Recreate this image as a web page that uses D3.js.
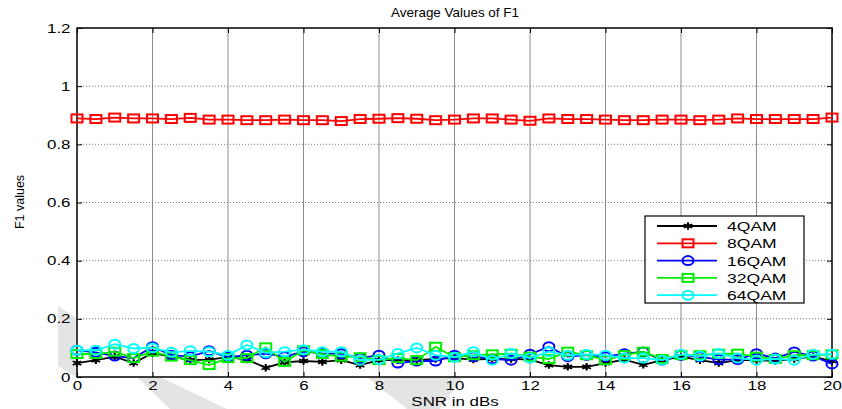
<!DOCTYPE html>
<html>
<head>
<meta charset="utf-8">
<script src="https://cdn.jsdelivr.net/npm/d3@7"></script>
<style>
  html, body { margin: 0; padding: 0; background: #fff; }
  svg { display: block; font-family: "Liberation Sans", Arial, sans-serif; }
</style>
</head>
<body>
<svg id="chart" width="842" height="409"></svg>
<script>
// ---------- data ----------
const snr = [0,0.5,1,1.5,2,2.5,3,3.5,4,4.5,5,5.5,6,6.5,7,7.5,8,8.5,9,9.5,10,
             10.5,11,11.5,12,12.5,13,13.5,14,14.5,15,15.5,16,16.5,17,17.5,18,18.5,19,19.5,20];

const qam4  = [0.048,0.058,0.070,0.048,0.082,0.070,0.058,0.060,0.068,0.060,0.032,0.050,0.055,0.052,
               0.058,0.041,0.058,0.058,0.058,0.062,0.065,0.060,0.062,0.062,0.060,0.041,0.035,0.035,
               0.048,0.060,0.042,0.058,0.070,0.058,0.048,0.058,0.058,0.055,0.062,0.070,0.055];
const qam8  = [0.889,0.887,0.892,0.889,0.889,0.887,0.891,0.885,0.885,0.883,0.883,0.885,0.883,0.883,
               0.880,0.887,0.888,0.890,0.888,0.883,0.885,0.889,0.889,0.885,0.881,0.889,0.887,0.887,
               0.885,0.883,0.883,0.885,0.885,0.883,0.885,0.889,0.887,0.887,0.887,0.887,0.892];
const qam16 = [0.092,0.085,0.072,0.065,0.104,0.075,0.070,0.090,0.068,0.075,0.080,0.070,0.087,0.081,
               0.080,0.065,0.075,0.048,0.055,0.055,0.075,0.070,0.062,0.058,0.078,0.104,0.070,0.075,
               0.070,0.080,0.086,0.058,0.075,0.070,0.060,0.060,0.080,0.065,0.086,0.072,0.045];
const qam32 = [0.079,0.079,0.087,0.065,0.087,0.070,0.058,0.041,0.065,0.065,0.102,0.052,0.092,0.079,
               0.070,0.068,0.058,0.065,0.058,0.104,0.068,0.075,0.078,0.080,0.070,0.062,0.087,0.075,
               0.058,0.075,0.087,0.062,0.075,0.075,0.080,0.080,0.070,0.062,0.075,0.075,0.078];
const qam64 = [0.092,0.092,0.113,0.098,0.100,0.085,0.090,0.087,0.075,0.110,0.083,0.087,0.094,0.087,
               0.087,0.058,0.060,0.081,0.100,0.075,0.068,0.087,0.058,0.081,0.065,0.087,0.075,0.078,
               0.075,0.065,0.065,0.058,0.078,0.072,0.081,0.065,0.058,0.062,0.058,0.078,0.078];

const seriesNames  = ["4QAM","8QAM","16QAM","32QAM","64QAM"];
const seriesValues = [qam4, qam8, qam16, qam32, qam64];
const seriesColors = ["#000000","#ff0000","#0000ff","#00ee00","#00ffff"];
const seriesMarkers = ["star","square","circle","square","circle"];

const xTicks = [0,2,4,6,8,10,12,14,16,18,20];
const yTicks = [0,0.2,0.4,0.6,0.8,1,1.2];
const yTickLabels = ["0","0.2","0.4","0.6","0.8","1","1.2"];

const titleText = "Average Values of F1";
const xLabelText = "SNR in dBs";
const yLabelText = "F1 values";

// ---------- layout ----------
const svg = d3.select("#chart");
const L = 77, R = 832, T = 28, B = 377;
const x = d3.scaleLinear().domain([0,20]).range([L,R]);
const y = d3.scaleLinear().domain([0,1.2]).range([B,T]);
const SX = 1.3; // horizontal stretch of text seen in the reference

// faint watermark bands (outside the axes)
const wm = svg.append("g").attr("fill","#e4e4e4");
wm.append("path").attr("d","M137,377 L160,377 L227,409 L170,409 Z");
wm.append("path").attr("d","M367,377 L463,377 L440,409 L407,409 Z");
wm.append("path").attr("d","M58,306 L76,318 L76,377 L58,366 Z");

// grid
const grid = svg.append("g");
grid.selectAll("line.vg").data(xTicks.slice(1,-1)).join("line")
  .attr("x1", d=>x(d)).attr("x2", d=>x(d)).attr("y1", T).attr("y2", B)
  .attr("stroke","#8c8c8c").attr("stroke-width",1);
grid.selectAll("line.hg").data(yTicks.slice(1,-1)).join("line")
  .attr("x1", L).attr("x2", R).attr("y1", d=>y(d)).attr("y2", d=>y(d))
  .attr("stroke","#777").attr("stroke-width",1).attr("stroke-dasharray","1,2");

// axes using d3 axes (inner ticks)
const tickLen = 5;
const xAxisB = d3.axisBottom(x).tickValues(xTicks).tickSize(-tickLen).tickPadding(4).tickFormat(d3.format("d"));
const xAxisT = d3.axisTop(x).tickValues(xTicks).tickSize(-tickLen).tickFormat("");
const yAxisL = d3.axisLeft(y).tickValues(yTicks).tickSize(-tickLen).tickPadding(5).tickFormat((d,i)=>yTickLabels[i]);
const yAxisR = d3.axisRight(y).tickValues(yTicks).tickSize(-tickLen).tickFormat("");

function style(g){
  g.select(".domain").remove();
  g.selectAll(".tick line").attr("stroke","#000");
  g.selectAll(".tick text").attr("font-size",13).attr("fill","#000")
    .attr("font-family","'Liberation Sans', Arial, sans-serif")
    .attr("transform",`scale(${SX},1)`);
}
svg.append("g").attr("transform",`translate(0,${B})`).call(xAxisB).call(style);
svg.append("g").attr("transform",`translate(0,${T})`).call(xAxisT).call(style);
svg.append("g").attr("transform",`translate(${L},0)`).call(yAxisL).call(style);
svg.append("g").attr("transform",`translate(${R},0)`).call(yAxisR).call(style);

// frame
svg.append("rect").attr("x",L).attr("y",T).attr("width",R-L).attr("height",B-T)
  .attr("fill","none").attr("stroke","#000").attr("stroke-width",1.5);

// ---------- series ----------
const line = d3.line().x((d,i)=>x(snr[i])).y(d=>y(d));
const plot = svg.append("g");

function drawMarker(g, type, color, cx, cy){
  if (type === "square") {
    g.append("rect").attr("x",cx-5.5).attr("y",cy-4).attr("width",11).attr("height",8)
      .attr("fill","none").attr("stroke",color).attr("stroke-width",2);
  } else if (type === "circle") {
    g.append("ellipse").attr("cx",cx).attr("cy",cy).attr("rx",5.5).attr("ry",4.5)
      .attr("fill","none").attr("stroke",color).attr("stroke-width",2);
  } else {
    g.append("path").attr("transform",`translate(${cx},${cy}) scale(1.3,1)`)
      .attr("d", d3.symbol().type(d3.symbolAsterisk).size(40)())
      .attr("fill","none").attr("stroke",color).attr("stroke-width",1.6);
    g.append("path").attr("transform",`translate(${cx},${cy}) scale(1.3,1)`)
      .attr("d", d3.symbol().type(d3.symbolDiamond).size(14)())
      .attr("fill",color);
  }
}

seriesValues.forEach((vals, si) => {
  const g = plot.append("g");
  g.append("path").datum(vals).attr("d", line)
    .attr("fill","none").attr("stroke",seriesColors[si]).attr("stroke-width",1.8);
  vals.forEach((v,i)=> drawMarker(g, seriesMarkers[si], seriesColors[si], x(snr[i]), y(v)));
});

// ---------- legend ----------
const lg = svg.append("g");
const lx = 645, ly = 216, lw = 159, lh = 87;
lg.append("rect").attr("x",lx).attr("y",ly).attr("width",lw).attr("height",lh)
  .attr("fill","#fff").attr("stroke","#000").attr("stroke-width",1.2);
seriesNames.forEach((name, i) => {
  const yy = ly + 10 + i*17.3;
  lg.append("line").attr("x1",657).attr("x2",717).attr("y1",yy).attr("y2",yy)
    .attr("stroke",seriesColors[i]).attr("stroke-width",1.8);
  drawMarker(lg, seriesMarkers[i], seriesColors[i], 688, yy);
  lg.append("text").attr("transform",`translate(727,${yy+5}) scale(1.35,1)`)
    .attr("font-size",13).text(name);
});

// ---------- labels ----------
svg.append("text").attr("transform","translate(455,17) scale(1.12,1)").attr("text-anchor","middle")
  .attr("font-size",12).text(titleText);
svg.append("text").attr("transform",`translate(455,406) scale(${SX},1)`).attr("text-anchor","middle")
  .attr("font-size",13).text(xLabelText);
svg.append("text").attr("transform","translate(24,202) rotate(-90)").attr("text-anchor","middle")
  .attr("font-size",12.5).text(yLabelText);
</script>
</body>
</html>
